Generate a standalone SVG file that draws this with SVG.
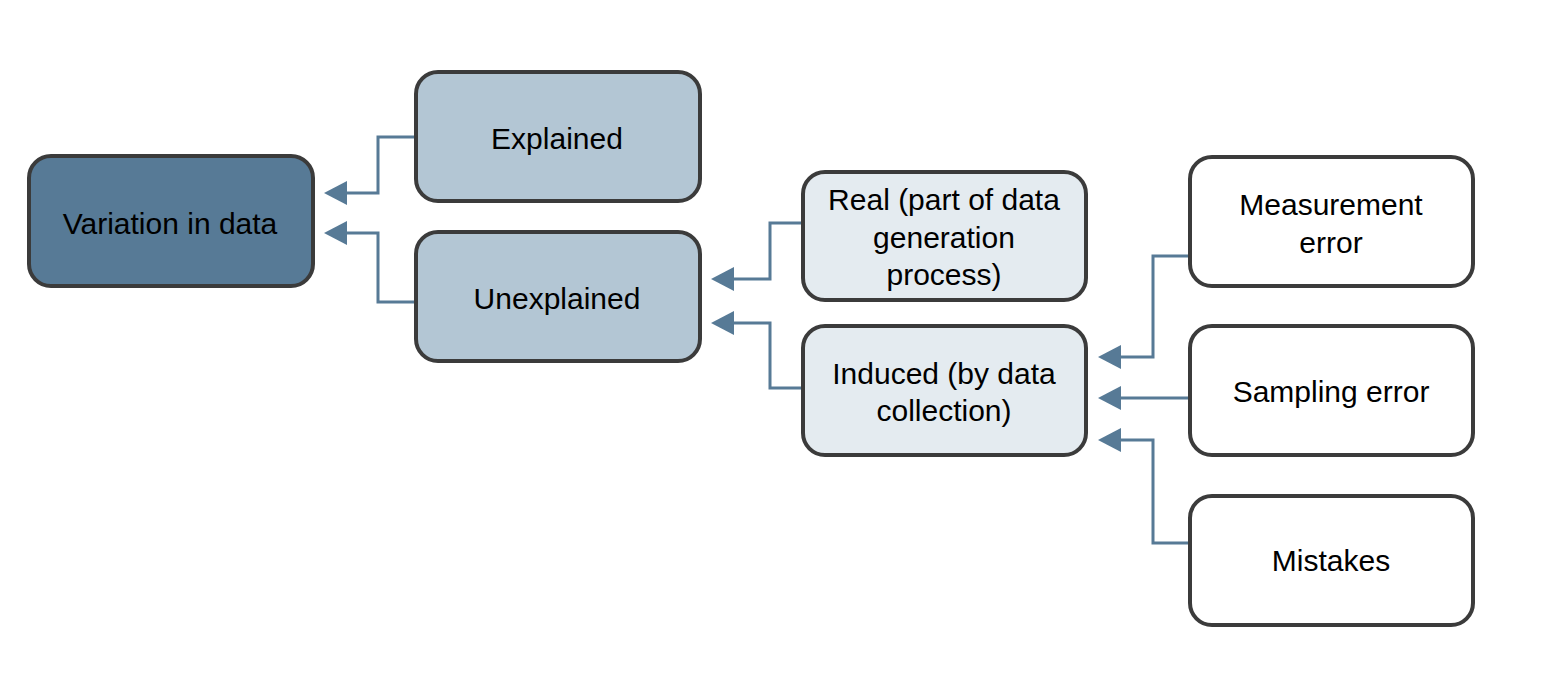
<svg xmlns="http://www.w3.org/2000/svg" width="1562" height="678" viewBox="0 0 1562 678">
<defs>
<style>
.box{stroke:#3b3b3b;stroke-width:4}
.l0{fill:#577a96}
.l1{fill:#b3c6d4}
.l2{fill:#e4ebf0}
.l3{fill:#ffffff}
.t{font-family:"Liberation Sans",Arial,sans-serif;fill:#000;text-anchor:middle}
.a{font-size:30px}
.b{font-size:30px}
.c{fill:none;stroke:#577a96;stroke-width:3}
.h{fill:#577a96}
</style>
</defs>
<rect width="1562" height="678" fill="#fff"/>
<g id="connectors">
<path class="c" d="M415 137 H378 V193 H340"/>
<polygon class="h" points="324,193 347,181 347,205"/>
<path class="c" d="M415 302 H378 V233 H340"/>
<polygon class="h" points="324,233 347,221 347,245"/>
<path class="c" d="M802 223 H770 V279 H728"/>
<polygon class="h" points="711,279 734,267 734,291"/>
<path class="c" d="M802 388 H770 V323 H728"/>
<polygon class="h" points="711,323 734,311 734,335"/>
<path class="c" d="M1189 256 H1153 V357 H1115"/>
<polygon class="h" points="1098,357 1121,345 1121,369"/>
<path class="c" d="M1189 398 H1115"/>
<polygon class="h" points="1098,398 1121,386 1121,410"/>
<path class="c" d="M1189 543 H1153 V440 H1115"/>
<polygon class="h" points="1098,440 1121,428 1121,452"/>
</g>
<g id="variation">
<rect class="box l0" x="29" y="156" width="284" height="130" rx="22"/>
<text class="t a" x="170" y="234">Variation in data</text>
</g>
<g id="explained">
<rect class="box l1" x="416" y="72" width="284" height="129" rx="22"/>
<text class="t a" x="557" y="149">Explained</text>
</g>
<g id="unexplained">
<rect class="box l1" x="416" y="232" width="284" height="129" rx="22"/>
<text class="t a" x="557" y="309">Unexplained</text>
</g>
<g id="real">
<rect class="box l2" x="803" y="172" width="283" height="128" rx="22"/>
<text class="t b" x="944" y="210">Real (part of data</text>
<text class="t b" x="944" y="248">generation</text>
<text class="t b" x="944" y="285">process)</text>
</g>
<g id="induced">
<rect class="box l2" x="803" y="326" width="283" height="129" rx="22"/>
<text class="t b" x="944" y="384">Induced (by data</text>
<text class="t b" x="944" y="421">collection)</text>
</g>
<g id="measurement">
<rect class="box l3" x="1190" y="157" width="283" height="129" rx="22"/>
<text class="t b" x="1331" y="215">Measurement</text>
<text class="t b" x="1331" y="253">error</text>
</g>
<g id="sampling">
<rect class="box l3" x="1190" y="326" width="283" height="129" rx="22"/>
<text class="t b" x="1331" y="402">Sampling error</text>
</g>
<g id="mistakes">
<rect class="box l3" x="1190" y="496" width="283" height="129" rx="22"/>
<text class="t b" x="1331" y="571">Mistakes</text>
</g>
</svg>
